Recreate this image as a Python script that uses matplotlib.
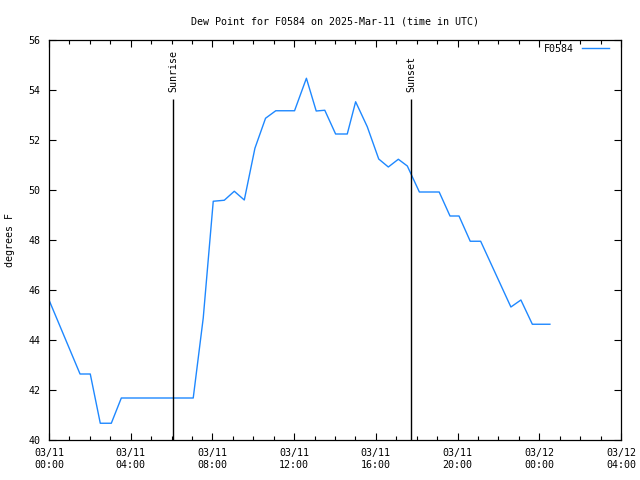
import matplotlib
matplotlib.use('Agg')
import matplotlib.pyplot as plt
from matplotlib.ticker import MultipleLocator

# hours since 03/11 00:00 UTC
hours = [0.0, 1.52, 2.02, 2.51, 3.05, 3.54, 7.06, 7.55, 8.04, 8.58, 9.07, 9.56,
         10.08, 10.6, 11.1, 12.02, 12.6, 13.08, 13.5, 14.03, 14.6, 15.01, 15.58,
         16.14, 16.61, 17.1, 17.54, 18.13, 19.1, 19.63, 20.07, 20.62, 21.13,
         22.61, 23.1, 23.66, 24.52]
dewpoint = [45.6, 42.64, 42.64, 40.67, 40.67, 41.68, 41.68, 44.88, 49.55, 49.59,
            49.95, 49.6, 51.67, 52.87, 53.17, 53.17, 54.47, 53.16, 53.19, 52.24,
            52.24, 53.53, 52.53, 51.24, 50.92, 51.23, 50.96, 49.92, 49.92, 48.96,
            48.96, 47.95, 47.95, 45.32, 45.6, 44.63, 44.63]

sunrise = 6.07
sunset = 17.72

tick_hours = [0, 4, 8, 12, 16, 20, 24, 28]
tick_labels = ['03/11\n00:00', '03/11\n04:00', '03/11\n08:00', '03/11\n12:00',
               '03/11\n16:00', '03/11\n20:00', '03/12\n00:00', '03/12\n04:00']

plt.rcParams['font.family'] = 'DejaVu Sans Mono'
plt.rcParams['font.size'] = 7.2

fig = plt.figure(figsize=(6.4, 4.8), dpi=100)
ax = fig.add_axes([49/640, 40/480, 572/640, 400/480])

ax.plot(hours, dewpoint, color='#1e88ff', linewidth=1.0, label='F0584')

for t, name in [(sunrise, 'Sunrise'), (sunset, 'Sunset')]:
    ax.vlines(t, 40, 53.65, color='black', linewidth=1.0)
    ax.text(t, 53.9, name, rotation=90, ha='center', va='bottom')

ax.set_xlim(0, 28)
ax.set_ylim(40, 56)
ax.set_xticks(tick_hours)
ax.set_xticklabels(tick_labels)
ax.xaxis.set_minor_locator(MultipleLocator(1))
ax.set_yticks(range(40, 57, 2))

ax.tick_params(which='both', direction='in', top=True, right=True, width=0.8)
ax.tick_params(which='major', length=5)
ax.tick_params(which='minor', length=3)
ax.tick_params(axis='x', pad=6)
ax.tick_params(axis='y', pad=6)
for s in ax.spines.values():
    s.set_linewidth(0.9)

ax.set_title('Dew Point for F0584 on 2025-Mar-11 (time in UTC)', fontsize=7.2, pad=11)
fig.text(10/640, 0.5, 'degrees F', rotation=90, ha='center', va='center')

ax.legend(loc='upper right', bbox_to_anchor=(0.979, 0.99), frameon=False,
          markerfirst=False, handlelength=2.7, handletextpad=0.8,
          borderaxespad=0, borderpad=0)

fig.savefig('out.png', dpi=100)
